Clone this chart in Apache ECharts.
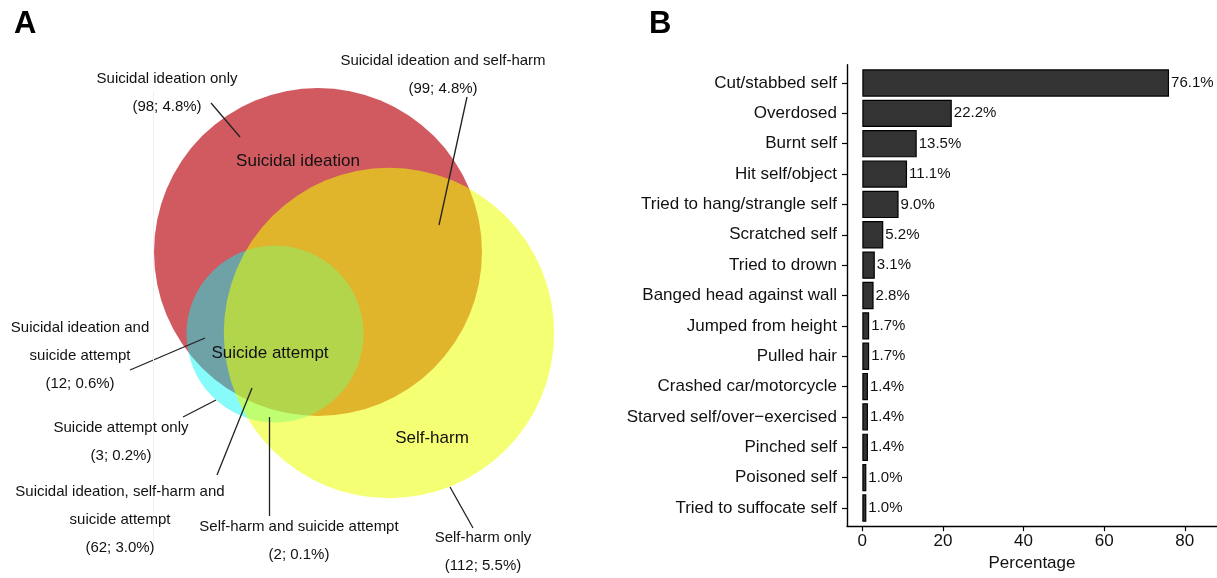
<!DOCTYPE html>
<html>
<head>
<meta charset="utf-8">
<script src="https://cdn.jsdelivr.net/npm/echarts@6/dist/echarts.min.js"></script>
<style>
  html, body { margin: 0; padding: 0; background: #fff; }
  #chart { width: 1217px; height: 578px; }
</style>
</head>
<body>
<div id="chart"></div>
<script>
// ---------------- DATA ----------------
// Panel B: methods of self-harm
const methodCategories = [
  'Cut/stabbed self', 'Overdosed', 'Burnt self', 'Hit self/object',
  'Tried to hang/strangle self', 'Scratched self', 'Tried to drown',
  'Banged head against wall', 'Jumped from height', 'Pulled hair',
  'Crashed car/motorcycle', 'Starved self/over\u2212exercised', 'Pinched self',
  'Poisoned self', 'Tried to suffocate self'
];
const methodPercent = [76.1, 22.2, 13.5, 11.1, 9.0, 5.2, 3.1, 2.8, 1.7, 1.7, 1.4, 1.4, 1.4, 1.0, 1.0];
const percentTicks = [0, 20, 40, 60, 80];

// Panel A: Venn regions
const setKeys = ['SI', 'SA', 'SH'];                       // drawing order
const setLabels = ['Suicidal ideation', 'Suicide attempt', 'Self-harm'];
const regionLabels = [
  'Suicidal ideation only',
  'Suicidal ideation and self-harm',
  'Suicidal ideation and\nsuicide attempt',
  'Suicide attempt only',
  'Suicidal ideation, self-harm and\nsuicide attempt',
  'Self-harm and suicide attempt',
  'Self-harm only'
];
const regionCounts = [98, 99, 12, 3, 62, 2, 112];
const regionPercents = [4.8, 4.8, 0.6, 0.2, 3.0, 0.1, 5.5];
const regionMembership = [['SI'], ['SI', 'SH'], ['SI', 'SA'], ['SA'], ['SI', 'SH', 'SA'], ['SH', 'SA'], ['SH']];

// ---------------- LAYOUT / STYLE ----------------
const FONT = '"Liberation Sans", Arial, Helvetica, sans-serif';
const LAYOUT = {
  radiusPerSqrtCount: 9.962,
  centers: { SI: [318, 252], SA: [275, 334], SH: [389, 333] },
  fills: { SI: ['rgb(208,90,96)', 1], SA: ['rgb(0,245,245)', 0.47], SH: ['rgb(236,255,0)', 0.55] },
  setLabelPos: { SI: [298, 161], SA: [270, 353], SH: [432, 438] },
  regionLabelPos: [[167, 93], [443, 75], [80, 356], [121, 442], [120, 519.5], [299, 541], [483, 552]],
  leaders: [
    [[211, 103], [240, 137]],
    [[467, 97], [439, 225]],
    [[130, 370], [205, 338]],
    [[183, 417], [216, 400]],
    [[217, 475], [252, 388]],
    [[269, 417], [269, 516]],
    [[450, 487], [473, 528]]
  ],
  xMin: -3.8, xMax: 88
};

// set totals computed from region counts
const setTotals = {};
setKeys.forEach(k => { setTotals[k] = 0; });
regionMembership.forEach((m, i) => m.forEach(k => { setTotals[k] += regionCounts[i]; }));

const chart = echarts.init(document.getElementById('chart'), null, { renderer: 'canvas' });

const vennCircleSeries = setKeys.map((k, i) => ({
  type: 'scatter',
  name: setLabels[i],
  xAxisIndex: 2, yAxisIndex: 2,
  silent: true,
  clip: false,
  z: 1 + i,
  symbol: 'circle',
  symbolSize: 2 * LAYOUT.radiusPerSqrtCount * Math.sqrt(setTotals[k]),
  itemStyle: { color: LAYOUT.fills[k][0], opacity: LAYOUT.fills[k][1] },
  data: [LAYOUT.centers[k]]
}));

const leaderData = LAYOUT.leaders.map(c => ({ coords: c }));
leaderData.push({ coords: [[153, 92], [153, 548]], lineStyle: { color: '#efefef', width: 1 } });

const option = {
  backgroundColor: '#ffffff',
  animation: false,
  textStyle: { fontFamily: FONT },
  title: [
    { text: 'A', left: 14, top: 9, padding: 0, textStyle: { fontSize: 31, fontWeight: 'bold', color: '#000', fontFamily: FONT } },
    { text: 'B', left: 649, top: 9, padding: 0, textStyle: { fontSize: 31, fontWeight: 'bold', color: '#000', fontFamily: FONT } }
  ],
  grid: [
    { left: 847, top: 67.8, width: 370, height: 455.4, containLabel: false },
    { left: 847, top: 64.8, width: 370, height: 461.4, containLabel: false },
    { left: 0, top: 0, width: 600, height: 578, containLabel: false }
  ],
  xAxis: [
    { gridIndex: 0, type: 'value', min: LAYOUT.xMin, max: LAYOUT.xMax, show: false },
    {
      gridIndex: 1, type: 'value', min: LAYOUT.xMin, max: LAYOUT.xMax,
      axisLine: { show: true, onZero: false, lineStyle: { color: '#000', width: 1.4 } },
      axisTick: { show: true, customValues: percentTicks, length: 5, lineStyle: { color: '#000', width: 1.2 } },
      axisLabel: { show: true, customValues: percentTicks, fontSize: 17, color: '#111', margin: 7, fontFamily: FONT },
      splitLine: { show: false },
      name: 'Percentage', nameLocation: 'middle', nameGap: 28,
      nameTextStyle: { fontSize: 17, color: '#111', fontFamily: FONT }
    },
    { gridIndex: 2, type: 'value', min: 0, max: 600, show: false }
  ],
  yAxis: [
    {
      gridIndex: 0, type: 'category', data: methodCategories, inverse: true,
      axisLine: { show: false, onZero: false },
      axisTick: { show: true, alignWithLabel: true, length: 5, lineStyle: { color: '#000', width: 1.2 } },
      axisLabel: { fontSize: 17, color: '#111', margin: 10, fontFamily: FONT },
      splitLine: { show: false }
    },
    {
      gridIndex: 1, type: 'value', min: 0, max: 1,
      axisLine: { show: true, onZero: false, lineStyle: { color: '#000', width: 1.4 } },
      axisTick: { show: false }, axisLabel: { show: false }, splitLine: { show: false }
    },
    { gridIndex: 2, type: 'value', min: 0, max: 578, inverse: true, show: false }
  ],
  series: [
    {
      type: 'bar', name: 'Percentage',
      xAxisIndex: 0, yAxisIndex: 0,
      data: methodPercent,
      barWidth: '90%',
      silent: true,
      itemStyle: { color: '#333333', borderColor: '#000', borderWidth: 1.2 },
      label: {
        show: true, position: 'right', distance: 2,
        formatter: p => p.value.toFixed(1) + '%',
        fontSize: 15, color: '#111', fontFamily: FONT
      }
    },
    ...vennCircleSeries,
    {
      type: 'lines', coordinateSystem: 'cartesian2d',
      xAxisIndex: 2, yAxisIndex: 2,
      silent: true, z: 5,
      lineStyle: { color: '#222', width: 1.3, opacity: 1, curveness: 0 },
      data: leaderData
    },
    {
      type: 'scatter', name: 'set labels',
      xAxisIndex: 2, yAxisIndex: 2, silent: true, z: 6,
      symbolSize: 1, itemStyle: { color: 'rgba(0,0,0,0)', opacity: 1 },
      label: {
        show: true, position: 'inside', formatter: p => p.name,
        fontSize: 17, color: '#111', fontFamily: FONT, opacity: 1
      },
      data: setKeys.map((k, i) => ({ name: setLabels[i], value: LAYOUT.setLabelPos[k] }))
    },
    {
      type: 'scatter', name: 'region labels',
      xAxisIndex: 2, yAxisIndex: 2, silent: true, z: 6,
      symbolSize: 1, itemStyle: { color: 'rgba(0,0,0,0)', opacity: 1 },
      label: {
        show: true, position: 'inside',
        formatter: p => p.name,
        fontSize: 15, lineHeight: 28, color: '#111', align: 'center', fontFamily: FONT, opacity: 1
      },
      data: regionLabels.map((t, i) => ({
        name: t + '\n(' + regionCounts[i] + '; ' + regionPercents[i].toFixed(1) + '%)',
        value: LAYOUT.regionLabelPos[i]
      }))
    }
  ]
};
chart.setOption(option);
</script>
</body>
</html>
